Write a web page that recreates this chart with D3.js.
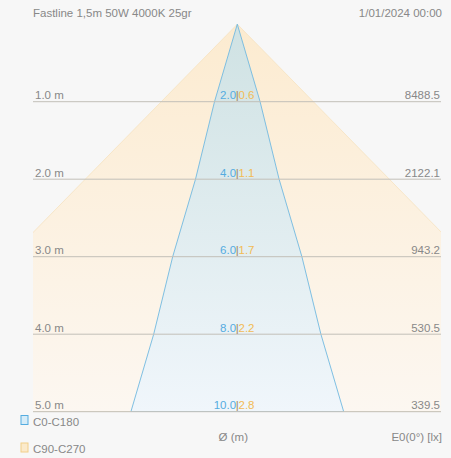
<!DOCTYPE html>
<html><head><meta charset="utf-8">
<script src="https://cdn.jsdelivr.net/npm/d3@7"></script>
<style>
html,body{margin:0;padding:0;background:#f7f7f7;}
svg{display:block;font-family:"Liberation Sans",Arial,sans-serif;}
</style></head><body>
<svg id="c" width="451" height="458"></svg>
<script>
const title = "Fastline 1,5m 50W 4000K 25gr";
const dateText = "1/01/2024 00:00";
const heights = [1.0, 2.0, 3.0, 4.0, 5.0];
const heightLabels = ["1.0 m", "2.0 m", "3.0 m", "4.0 m", "5.0 m"];
const diamC0 = [2.0, 4.0, 6.0, 8.0, 10.0];
const diamC90 = [0.6, 1.1, 1.7, 2.2, 2.8];
const illum = ["8488.5", "2122.1", "943.2", "530.5", "339.5"];
const legendNames = ["C0-C180", "C90-C270"];

const svg = d3.select("#c");
const L = 33, R = 441, T = 24.2, B = 411.7;
const cx = 237.3;
const y = d3.scaleLinear().domain([0, 5]).range([T, B]);
const x = d3.scaleLinear().domain([-1, 1]).range([cx - 76, cx + 76]);
const FS = 11.5;

const defs = svg.append("defs");
defs.append("clipPath").attr("id", "clip").append("rect")
  .attr("x", L).attr("y", T - 2).attr("width", R - L).attr("height", B - T + 2);
const go = defs.append("linearGradient").attr("id", "gO")
  .attr("gradientUnits", "userSpaceOnUse").attr("x1", 0).attr("y1", T).attr("x2", 0).attr("y2", B);
go.append("stop").attr("offset", 0).attr("stop-color", "#fcebd0");
go.append("stop").attr("offset", 1).attr("stop-color", "#fcf7f1");
const gb = defs.append("linearGradient").attr("id", "gB")
  .attr("gradientUnits", "userSpaceOnUse").attr("x1", 0).attr("y1", T).attr("x2", 0).attr("y2", B);
gb.append("stop").attr("offset", 0).attr("stop-color", "#cfe2e3");
gb.append("stop").attr("offset", 1).attr("stop-color", "#f0f6fb");

function cone(diams) {
  const pts = [[x(0), y(0)]];
  heights.forEach((h, i) => pts.push([x(diams[i] / 2), y(h)]));
  const left = heights.map((h, i) => [x(-diams[i] / 2), y(h)]).reverse();
  return pts.concat(left);
}
const line = d3.line();
const g = svg.append("g").attr("clip-path", "url(#clip)");
g.append("path").attr("d", line(cone(diamC0)) + "Z")
  .attr("fill", "url(#gO)").attr("stroke", "#f6e2bf").attr("stroke-width", 0.8);
g.append("path").attr("d", line(cone(diamC90)) + "Z")
  .attr("fill", "url(#gB)").attr("stroke", "#72b9e0").attr("stroke-width", 0.9);

svg.selectAll("line.h").data(heights).join("line").attr("class", "h")
  .attr("x1", L).attr("x2", R).attr("y1", d => y(d)).attr("y2", d => y(d))
  .attr("stroke", "#c2bfb8").attr("stroke-width", 1);

const gray = "#888888";
svg.selectAll("text.hl").data(heightLabels).join("text").attr("class", "hl")
  .attr("x", L + 2).attr("y", (d, i) => y(heights[i]) - 2.5)
  .attr("font-size", FS).attr("fill", gray).text(d => d);
svg.selectAll("text.il").data(illum).join("text").attr("class", "il")
  .attr("x", R - 1).attr("y", (d, i) => y(heights[i]) - 2.5).attr("text-anchor", "end")
  .attr("font-size", FS).attr("fill", gray).text(d => d);
heights.forEach((h, i) => {
  const ty = y(h) - 2.5;
  svg.append("text").attr("x", cx - 1.2).attr("y", ty).attr("text-anchor", "end")
    .attr("font-size", FS).attr("fill", "#55ace0").text(diamC0[i].toFixed(1));
  svg.append("text").attr("x", cx).attr("y", ty).attr("text-anchor", "middle")
    .attr("font-size", FS).attr("fill", "#a08560").text("|");
  svg.append("text").attr("x", cx + 1.2).attr("y", ty).attr("text-anchor", "start")
    .attr("font-size", FS).attr("fill", "#f2bb55").text(diamC90[i].toFixed(1));
});

svg.append("text").attr("x", L).attr("y", 17).attr("font-size", FS).attr("fill", gray).text(title);
svg.append("text").attr("x", R + 1).attr("y", 17).attr("text-anchor", "end").attr("font-size", FS).attr("fill", gray).text(dateText);

const legColors = [["#d6ecf8", "#55ace0"], ["#fbeacb", "#f2cf8a"]];
const legY = [415.5, 443];
legendNames.forEach((n, i) => {
  svg.append("rect").attr("x", 21).attr("y", legY[i]).attr("width", 7).attr("height", 9)
    .attr("fill", legColors[i][0]).attr("stroke", legColors[i][1]).attr("stroke-width", 1);
  svg.append("text").attr("x", 33).attr("y", legY[i] + 10).attr("font-size", FS).attr("fill", gray).text(n);
});
svg.append("text").attr("x", cx - 4).attr("y", 441).attr("text-anchor", "middle").attr("font-size", FS).attr("fill", gray).text("Ø (m)");
svg.append("text").attr("x", R + 1).attr("y", 441).attr("text-anchor", "end").attr("font-size", FS).attr("fill", gray).text("E0(0°) [lx]");
</script></body></html>
